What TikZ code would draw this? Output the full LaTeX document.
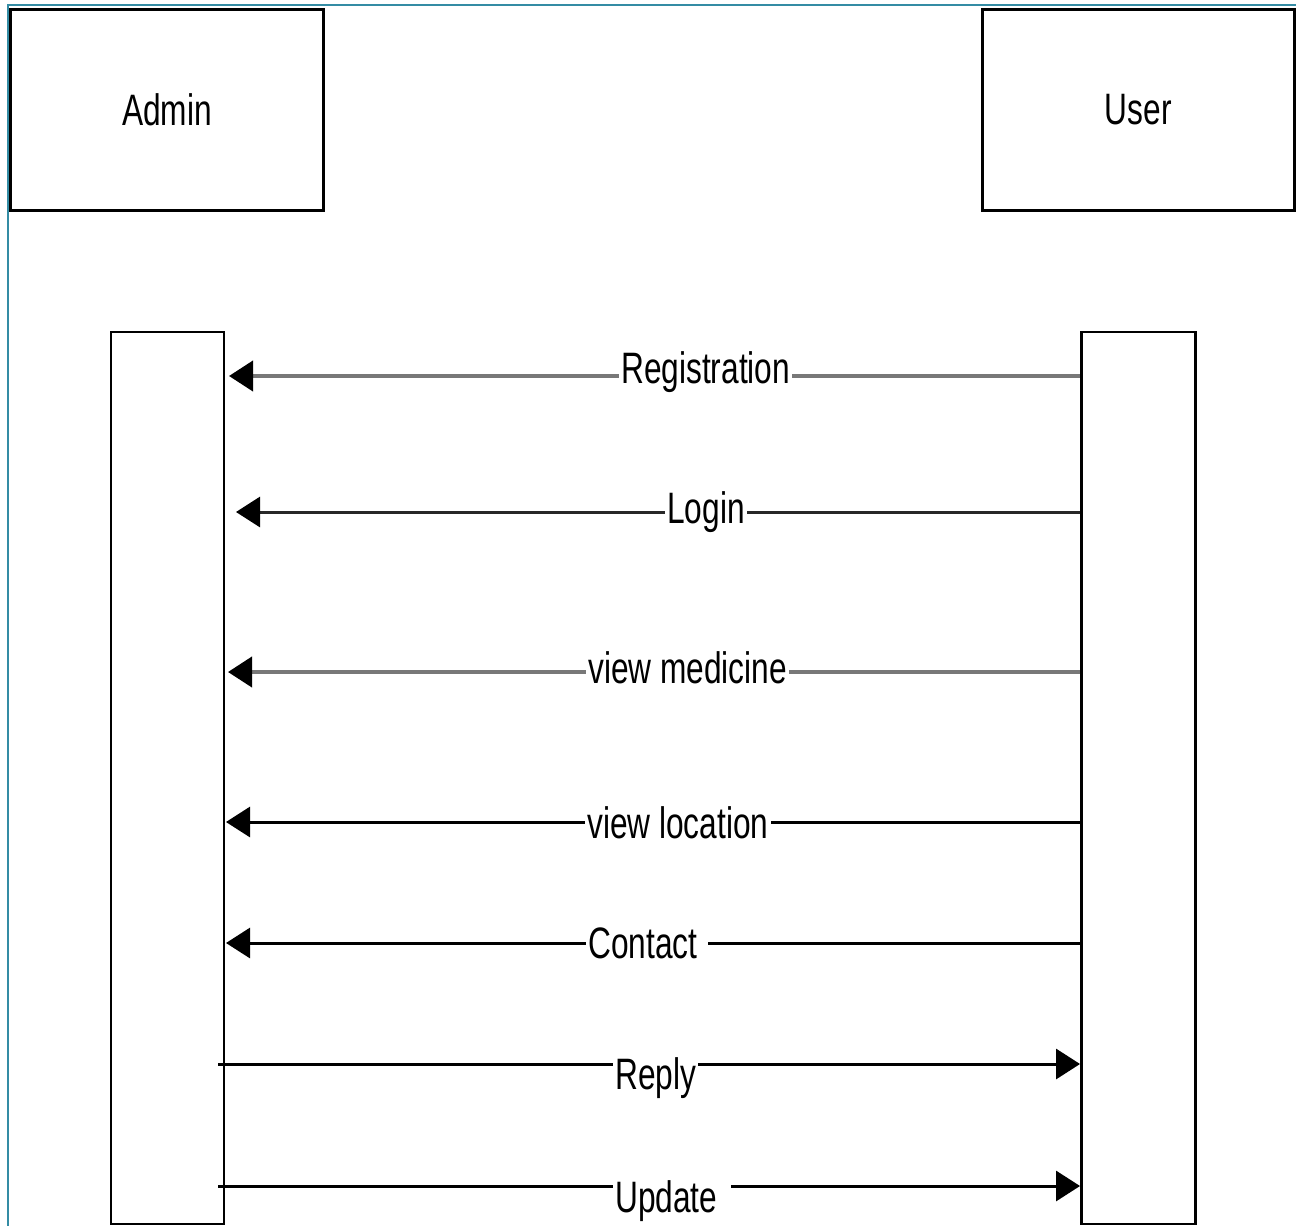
\documentclass[tikz,border=0pt]{standalone}
\usepackage{fontspec}
\newfontfamily\narrowsans[FakeStretch=0.72]{Liberation Sans}
\usetikzlibrary{arrows.meta}
\definecolor{frameteal}{RGB}{52,140,164}
\definecolor{msggray}{RGB}{120,120,120}
\definecolor{msgdark}{RGB}{40,40,40}
\begin{document}
\begin{tikzpicture}[x=1pt,y=-1pt,
  lbl/.style={font=\narrowsans\fontsize{44}{48}\selectfont, text=black},
  headbox/.style={draw=black, line width=3pt, fill=white,
    minimum width=313pt, minimum height=201pt, inner sep=0pt, lbl},
  lifebox/.style={draw=black, line width=2.7pt, fill=white,
    minimum width=114pt, minimum height=892pt, inner sep=0pt},
  msg/.style={line width=3pt,
    -{Triangle[length=24pt,width=30pt,color=black,fill=black]}},
  msggrey/.style={msg, draw=msggray, line width=4pt},
  msglabel/.style={lbl, fill=white, inner xsep=2pt, inner ysep=0pt, anchor=base west},
]
\useasboundingbox (0,0) rectangle (1296,1226);

% outer frame
\draw[frameteal, line width=2pt] (8,1226) -- (8,5) -- (1296,5);

% participants
\node[headbox] (admin) at (167,110) {Admin};
\node[headbox, minimum width=312.5pt] (user) at (1138.25,110) {User};

% activation bars
\node[lifebox, minimum width=113pt] (adminact) at (167.5,778) {};
\node[lifebox] (useract) at (1138.4,778) {};

% message end points
\coordinate (regU)  at (useract.west |- 0,376);
\coordinate (regA)  at (229,376);
\coordinate (logU)  at (useract.west |- 0,512);
\coordinate (logA)  at (236,512);
\coordinate (medU)  at (useract.west |- 0,672);
\coordinate (medA)  at (228,672);
\coordinate (locU)  at (useract.west |- 0,822);
\coordinate (locA)  at (226,822);
\coordinate (conU)  at (useract.west |- 0,943);
\coordinate (conA)  at (226,943);
\coordinate (repA)  at (218,1064);
\coordinate (repU)  at (useract.west |- 0,1064);
\coordinate (updA)  at (218,1186);
\coordinate (updU)  at (useract.west |- 0,1186);

% messages
\draw[msggrey] (regU) -- (regA);
\draw[msg, draw=msgdark] (logU) -- (logA);
\draw[msggrey] (medU) -- (medA);
\draw[msg, draw=black] (locU) -- (locA);
\draw[msg, draw=black] (conU) -- (conA);
\draw[msg, draw=black] (repA) -- (repU);
\draw[msg, draw=black] (updA) -- (updU);

% message labels
\node[msglabel] (regL) at (619,383)  {Registration};
\node[msglabel] (logL) at (665,523)  {Login};
\node[msglabel] (medL) at (586,683)  {view medicine};
\node[msglabel] (locL) at (585,838)  {view location};
\node[msglabel] (conL) at (586,958)  {Contact\kern9pt};
\node[msglabel] (repL) at (613,1089) {Reply};
\node[msglabel] (updL) at (613,1212) {Update\kern12pt};
\end{tikzpicture}
\end{document}
